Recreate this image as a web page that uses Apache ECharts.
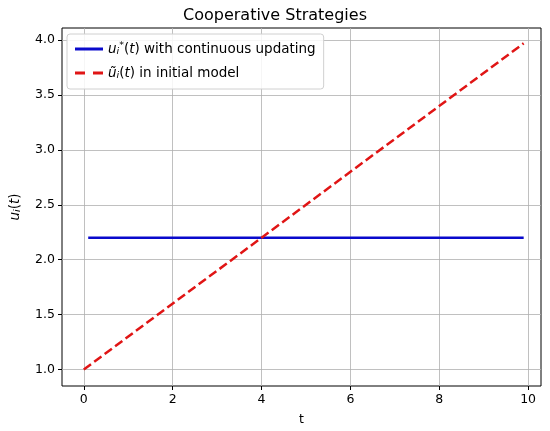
<!DOCTYPE html>
<html>
<head>
<meta charset="utf-8">
<script src="https://cdn.jsdelivr.net/npm/echarts@6/dist/echarts.min.js"></script>
<style>
  html, body { margin: 0; padding: 0; background: #fff; }
  #chart { width: 550px; height: 431px; }
</style>
</head>
<body>
<div id="chart"></div>
<script>
// line endpoints
const updatingT = [0.1, 9.9];
const updatingU = [2.2, 2.2];
const initialT = [0, 9.9];
const initialU = [1.0, 3.97];
const xTicks = [0, 2, 4, 6, 8, 10];
const yTicks = [1.0, 1.5, 2.0, 2.5, 3.0, 3.5, 4.0];

const font = 'DejaVu Sans';
const rich = {
  it: { fontFamily: font, fontStyle: 'italic', fontSize: 13.5, color: '#000' },
  sub: { fontFamily: font, fontStyle: 'italic', fontSize: 9.5, color: '#000', verticalAlign: 'bottom', padding: [6, 0, 0, 0] },
  sup: { fontFamily: font, fontSize: 9.5, color: '#000', verticalAlign: 'top', padding: [0, 0, 6, 0] },
  n: { fontFamily: font, fontSize: 13.5, color: '#000' }
};

var myChart = echarts.init(document.getElementById('chart'));
var option = {
  animation: false,
  title: {
    text: 'Cooperative Strategies',
    left: 'center',
    top: 3,
    textStyle: { fontFamily: font, fontSize: 16, fontWeight: 'normal', color: '#000' }
  },
  legend: {
    orient: 'vertical',
    left: 67,
    top: 34,
    padding: [7, 8, 8, 8],
    itemGap: 9,
    itemWidth: 28,
    itemHeight: 10,
    backgroundColor: 'rgba(255,255,255,0.85)',
    borderColor: '#d0d0d0',
    borderWidth: 1,
    borderRadius: 3,
    data: [
      { name: 'updating', icon: 'path://M0,3.5 L28,3.5 L28,6.5 L0,6.5 Z' },
      { name: 'initial', icon: 'path://M0,3.5 L10,3.5 L10,6.5 L0,6.5 Z M18,3.5 L28,3.5 L28,6.5 L18,6.5 Z' }
    ],
    formatter: function (name) {
      if (name === 'updating') {
        return '{it|u}{sub|i}{sup|*}{n|(}{it|t}{n|) with continuous updating}';
      }
      return '{it|ũ}{sub|i}{n|(}{it|t}{n|) in initial model}';
    },
    textStyle: { rich: rich }
  },
  grid: {
    left: 61, right: 9, top: 28, bottom: 43,
    show: true, borderColor: '#000', borderWidth: 1
  },
  xAxis: {
    type: 'value',
    min: -0.49,
    max: 10.29,
    name: 't',
    nameLocation: 'middle',
    nameGap: 27,
    nameTextStyle: { fontFamily: font, fontSize: 12.5, color: '#000' },
    axisLine: { show: false, onZero: false },
    axisTick: { show: true, customValues: xTicks, length: 4, lineStyle: { color: '#000' } },
    axisLabel: { customValues: xTicks, fontFamily: font, fontSize: 12.5, color: '#000', margin: 7 },
    splitLine: { show: true, lineStyle: { color: '#b0b0b0', width: 0.8 } }
  },
  yAxis: {
    type: 'value',
    min: 0.85,
    max: 4.11,
    name: '{it|u}{sub|i}{n|(}{it|t}{n|)}',
    nameLocation: 'middle',
    nameGap: 39,
    nameRotate: 90,
    nameTextStyle: { rich: rich },
    axisLine: { show: false, onZero: false },
    axisTick: { show: true, customValues: yTicks, length: 4, lineStyle: { color: '#000' } },
    axisLabel: {
      customValues: yTicks, fontFamily: font, fontSize: 12.5, color: '#000', margin: 7,
      formatter: function (v) { return v.toFixed(1); }
    },
    splitLine: { show: true, lineStyle: { color: '#b0b0b0', width: 0.8 } }
  },
  series: [
    {
      name: 'updating',
      type: 'line',
      showSymbol: false,
      data: updatingT.map((t, i) => [t, updatingU[i]]),
      itemStyle: { color: '#0a0acc' },
      lineStyle: { color: '#0a0acc', width: 2.5 },
      z: 3
    },
    {
      name: 'initial',
      type: 'line',
      showSymbol: false,
      data: initialT.map((t, i) => [t, initialU[i]]),
      itemStyle: { color: '#e01515' },
      lineStyle: { color: '#e01515', width: 2.5, type: [9, 4] },
      z: 4
    }
  ]
};
option && myChart.setOption(option);
</script>
</body>
</html>
